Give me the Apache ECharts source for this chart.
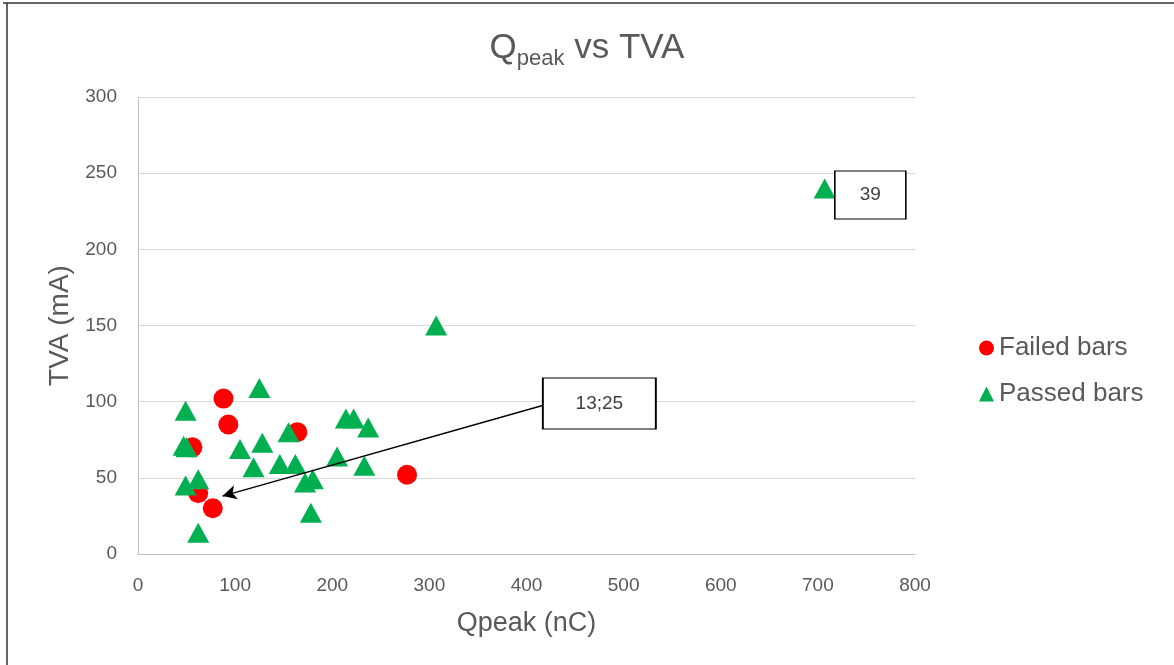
<!DOCTYPE html>
<html>
<head>
<meta charset="utf-8">
<script src="https://cdn.jsdelivr.net/npm/echarts@6/dist/echarts.min.js"></script>
<style>
  html, body { margin: 0; padding: 0; background: #fff; }
  #chart { width: 1174px; height: 665px; }
</style>
</head>
<body>
<div id="chart"></div>
<script>
// Qpeak (nC) vs TVA (mA) for the tested bars
const failedQ = [56, 88, 93, 164, 62, 77, 277];
const failedTVA = [70, 102, 85, 80, 40, 30, 52];

const passedQ = [125, 49, 47, 50, 155, 105, 128, 119, 146, 162, 180, 172, 178, 62, 49, 62, 205, 214, 222, 237, 233, 307, 707];
const passedTVA = [109, 94, 71, 70, 80, 69, 73, 57, 59, 59, 49, 47, 27, 14, 45, 49, 64, 89, 89, 83, 58, 150, 240];

// callouts: box position (data coords), arrow end, text
const calloutFailedText = '13;25';
const calloutFailedBox = [475, 98.8];
const calloutFailedArrow = [[422, 98.5], [87, 38]];
const calloutPassedText = '39';
const calloutPassedBox = [754, 235.7];

const xTicks = { min: 0, max: 800, interval: 100 };
const yTicks = { min: 0, max: 300, interval: 50 };

const pair = (xs, ys) => xs.map((x, i) => [x, ys[i]]);
const textColor = '#595959';
const font = 'Liberation Sans, Arial, sans-serif';

const chart = echarts.init(document.getElementById('chart'));
chart.setOption({
  animation: false,
  backgroundColor: '#fff',
  textStyle: { fontFamily: font },
  title: {
    left: 'center',
    top: 21,
    text: '{a|Q}{b|peak}{a| vs TVA}',
    textStyle: {
      fontWeight: 'normal',
      rich: {
        a: { fontSize: 35, fontWeight: 'normal', color: textColor, fontFamily: font, lineHeight: 44, verticalAlign: 'middle' },
        b: { fontSize: 22, fontWeight: 'normal', color: textColor, fontFamily: font, lineHeight: 22, verticalAlign: 'bottom' }
      }
    }
  },
  grid: { left: 138, right: 259, top: 97, bottom: 111 },
  legend: {
    orient: 'vertical',
    left: 974,
    top: 328,
    itemWidth: 15,
    itemHeight: 15,
    itemGap: 16,
    textStyle: { fontSize: 26, color: textColor, fontFamily: font, lineHeight: 30 },
    data: [
      { name: 'Failed bars', icon: 'circle' },
      { name: 'Passed bars', icon: 'triangle' }
    ]
  },
  xAxis: {
    type: 'value',
    min: xTicks.min, max: xTicks.max, interval: xTicks.interval,
    name: 'Qpeak (nC)',
    nameLocation: 'middle',
    nameGap: 56,
    nameTextStyle: { fontSize: 27, color: textColor, fontFamily: font },
    axisLine: { show: true, lineStyle: { color: '#bfbfbf', width: 1 } },
    axisTick: { show: false },
    splitLine: { show: false },
    axisLabel: { fontSize: 19, color: textColor, margin: 22, fontFamily: font }
  },
  yAxis: {
    type: 'value',
    min: yTicks.min, max: yTicks.max, interval: yTicks.interval,
    name: 'TVA (mA)',
    nameLocation: 'middle',
    nameGap: 64,
    nameTextStyle: { fontSize: 28, color: textColor, fontFamily: font },
    axisLine: { show: true, lineStyle: { color: '#bfbfbf', width: 1 } },
    axisTick: { show: false },
    splitLine: { show: true, lineStyle: { color: '#d9d9d9', width: 1 } },
    axisLabel: { fontSize: 19, color: textColor, margin: 21, fontFamily: font }
  },
  series: [
    {
      name: 'Failed bars',
      type: 'scatter',
      symbol: 'circle',
      symbolSize: 20,
      itemStyle: { color: '#ff0000', opacity: 1 },
      data: pair(failedQ, failedTVA),
      markLine: {
        silent: true,
        symbol: ['none', 'arrow'],
        symbolSize: [11, 14],
        label: { show: false },
        lineStyle: { color: '#000', width: 1.5, type: 'solid' },
        data: [[{ coord: calloutFailedArrow[0] }, { coord: calloutFailedArrow[1] }]]
      },
      markPoint: {
        silent: true,
        symbol: 'rect',
        symbolSize: [113, 51],
        itemStyle: { color: '#fff', borderColor: '#000', borderWidth: 1.3 },
        label: { show: true, position: 'inside', color: '#404040', fontSize: 19, fontFamily: font, formatter: () => calloutFailedText },
        data: [{ coord: calloutFailedBox }]
      }
    },
    {
      name: 'Passed bars',
      type: 'scatter',
      symbol: 'triangle',
      symbolSize: [22, 20],
      itemStyle: { color: '#00b050', opacity: 1 },
      data: pair(passedQ, passedTVA),
      markPoint: {
        silent: true,
        symbol: 'rect',
        symbolSize: [71, 48],
        itemStyle: { color: '#fff', borderColor: '#000', borderWidth: 1.3 },
        label: { show: true, position: 'inside', color: '#404040', fontSize: 19, fontFamily: font, formatter: () => calloutPassedText },
        data: [{ coord: calloutPassedBox }]
      }
    }
  ],
  graphic: [
    { type: 'line', shape: { x1: 3, y1: 3, x2: 1174, y2: 3 }, style: { stroke: '#333', lineWidth: 1.5 } },
    { type: 'line', shape: { x1: 7, y1: 3, x2: 7, y2: 665 }, style: { stroke: '#333', lineWidth: 1.5 } }
  ]
});
</script>
</body>
</html>
